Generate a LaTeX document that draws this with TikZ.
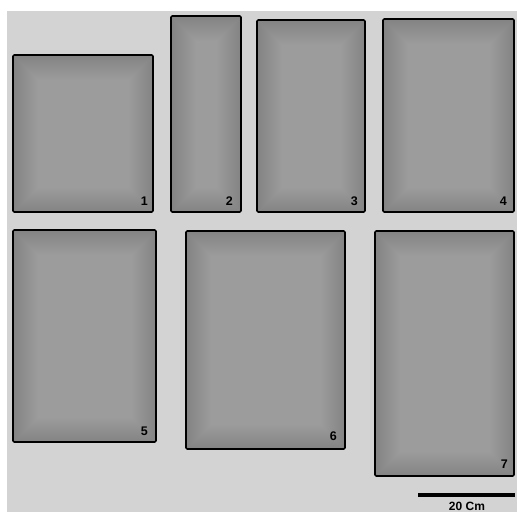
\documentclass[tikz,border=0pt]{standalone}
\usepackage{fontspec}
\setmainfont{Liberation Sans}
\definecolor{bggray}{RGB}{211,211,211}
\definecolor{pinner}{RGB}{156,156,156}
\definecolor{pouter}{RGB}{110,110,110}
\newcommand{\mypanel}[4]{%
  \begin{scope}
    \clip[rounded corners=1.2pt] (#1,#2) rectangle (#3,#4);
    \fill[pinner] (#1,#2) rectangle (#3,#4);
    \foreach \w in {2,4,...,48} {
      \draw[pouter,line width=\w pt,opacity=0.018,rounded corners=0.5*\w pt] (#1,#2) rectangle (#3,#4);
    }
  \end{scope}
  \draw[black,line width=1.6pt,rounded corners=1.2pt] (#1,#2) rectangle (#3,#4);}
\begin{document}
\begin{tikzpicture}[x=1pt,y=-1pt,
  lbl/.style={font=\fontsize{12.5}{13}\selectfont\bfseries,inner sep=0pt,anchor=base east}]
\useasboundingbox (0,0) rectangle (517,512);
\fill[white] (0,0) rectangle (517,512);
\fill[bggray] (7,11) rectangle (517,512);
\mypanel{13}{55}{153}{212}
\mypanel{171}{16}{241}{212}
\mypanel{257}{20}{365}{212}
\mypanel{383}{19}{514}{212}
\mypanel{13}{230}{156}{442}
\mypanel{186}{231}{345}{449}
\mypanel{375}{231}{514}{476}
\node[lbl] (l1) at (148,205) {1};
\node[lbl] (l2) at (233,205) {2};
\node[lbl] (l3) at (358,205) {3};
\node[lbl] (l4) at (507,205) {4};
\node[lbl] (l5) at (148,435) {5};
\node[lbl] (l6) at (337,440) {6};
\node[lbl] (l7) at (508,468) {7};
\draw[line width=3.7pt] (418,495) -- (515,495);
\node[font=\fontsize{12}{13}\selectfont\bfseries,inner sep=0pt,anchor=base] (scale) at (467,510) {20 Cm};
\end{tikzpicture}
\end{document}
